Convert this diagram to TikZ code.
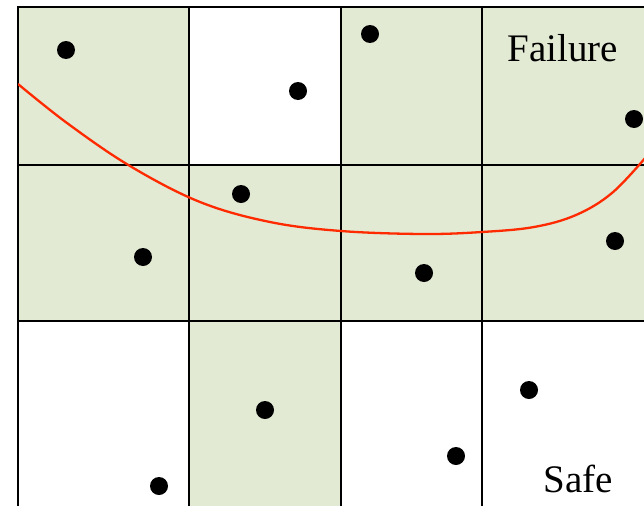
\documentclass[tikz,border=0pt]{standalone}
\usepackage{fontspec}
\setmainfont{Liberation Serif}
\definecolor{cellgreen}{HTML}{E2EAD4}
\definecolor{curvered}{HTML}{FF2A00}
\tikzset{
  cell/.style={fill=cellgreen, draw=none},
  gridline/.style={line width=2pt, black},
  dot/.style={fill=black},
  lbl/.style={font=\fontsize{39}{39}\selectfont, anchor=base, inner sep=0pt},
  limit/.style={curvered, line width=2.3pt}
}
\begin{document}
\begin{tikzpicture}[x=1pt,y=-1pt]
\useasboundingbox (0,0) rectangle (644,506);
% green cells
\fill[cell] (18,7) rectangle (189,165);
\fill[cell] (341,7) rectangle (644,165);
\fill[cell] (18,165) rectangle (644,321);
\fill[cell] (189,321) rectangle (341,506);
% grid
\draw[gridline] (644,7) -- (18,7) -- (18,506);
\foreach \x in {189,341,482} \draw[gridline] (\x,7) -- (\x,506);
\foreach \y in {165,321} \draw[gridline] (18,\y) -- (644,\y);
% limit state curve
\begin{scope}
\clip (18,0) rectangle (644,506);
\draw[limit] plot[smooth, tension=0.6] coordinates {(18,84) (67,123) (130,166) (200,202) (270,222) (341,231) (423,234) (482,232) (534,227) (576,215) (612,193) (646,157)};
\end{scope}
% samples
\foreach \p in {(66,50),(298,91),(370,34),(634,119),(241,194),(143,257),(424,273),(615,241),(265,410),(159,486),(456,456),(529,390)}
  \fill[dot] \p circle (9);
% labels
\node[lbl] (failure) at (563,61) {Failure};
\node[lbl] (safe) at (578,492) {Safe};
\end{tikzpicture}
\end{document}
